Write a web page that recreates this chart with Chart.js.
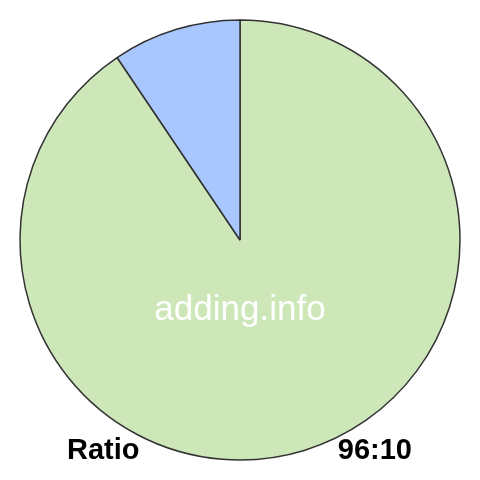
<!DOCTYPE html>
<html>
<head>
<meta charset="utf-8">
<script src="https://cdn.jsdelivr.net/npm/chart.js@4.4.1/dist/chart.umd.min.js"></script>
<style>
    html, body { margin: 0; padding: 0; background: #fff; }
    #wrap { width: 480px; height: 480px; }
</style>
</head>
<body>
<div id="wrap"><canvas id="ratioPie" width="480" height="480"></canvas></div>
<script>
// ratio values, first slice runs clockwise from the top
const labels = ['96', '10'];
const values = [96, 10];
const colors = ['#cde7b9', '#a9c7ff'];

const watermark = 'adding.info';
const leftCaption = 'Ratio';
const rightCaption = values.join(':');

// draws the watermark and the two captions on top of the pie
const captionPlugin = {
    id: 'captions',
    afterDraw(chart) {
        const c = chart.ctx;
        c.save();
        c.fillStyle = '#ffffff';
        c.font = '35px "Liberation Sans", Arial, sans-serif';
        c.textAlign = 'center';
        c.textBaseline = 'middle';
        c.fillText(watermark, 240, 310);

        c.fillStyle = '#000000';
        c.font = 'bold 29px "Liberation Sans", Arial, sans-serif';
        c.textAlign = 'left';
        c.fillText(leftCaption, 67, 451);
        c.textAlign = 'right';
        c.fillText(rightCaption, 412, 451);
        c.restore();
    }
};

const ctx = document.getElementById('ratioPie').getContext('2d');

new Chart(ctx, {
    type: 'pie',
    data: {
        labels: labels,
        datasets: [{
            data: values,
            backgroundColor: colors,
            borderColor: '#333333',
            borderWidth: 1.5
        }]
    },
    options: {
        responsive: false,
        animation: false,
        radius: 220,
        layout: { padding: 0 },
        plugins: {
            legend: { display: false },
            tooltip: { enabled: false }
        }
    },
    plugins: [captionPlugin]
});
</script>
</body>
</html>
